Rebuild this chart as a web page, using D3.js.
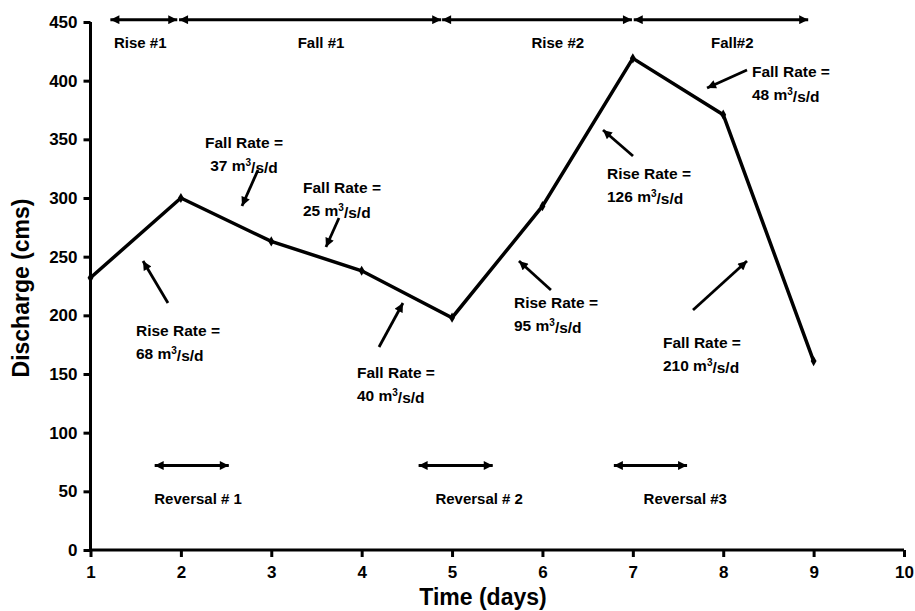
<!DOCTYPE html>
<html><head><meta charset="utf-8">
<script src="https://cdn.jsdelivr.net/npm/d3@7/dist/d3.min.js"></script>
<style>
body{margin:0;background:#fff;}
text{font-family:"Liberation Sans",Arial,sans-serif;font-weight:bold;fill:#000;}
</style></head>
<body><svg id="c" width="915" height="611"></svg>
<script>
// ---- data ----
const days = [1,2,3,4,5,6,7,8,9];
const discharge = [232,300,263,238,198,293,419,371,161];
const xTicks = [1,2,3,4,5,6,7,8,9,10];
const yTicks = [0,50,100,150,200,250,300,350,400,450];
const xTitle = "Time (days)";
const yTitle = "Discharge (cms)";

// period ranges (top) and reversal ranges (bottom), in days
const periodLabels = ["Rise #1","Fall #1","Rise #2","Fall#2"];
const periodStart = [1.22,1.98,4.89,7.01];
const periodEnd   = [1.96,4.88,6.99,8.94];
const periodLabelX = [1.55,3.55,6.17,8.10];
const periodArrowY = 452;
const periodLabelY = 432;

const reversalLabels = ["Reversal # 1","Reversal # 2","Reversal #3"];
const reversalStart = [1.71,4.63,6.79];
const reversalEnd   = [2.53,5.45,7.60];
const reversalLabelX = [2.19,5.30,7.58];
const reversalArrowY = 72;
const reversalLabelY = 44;

// rate annotations
const rateTitle = ["Fall Rate =","Fall Rate =","Rise Rate =","Fall Rate =","Rise Rate =","Fall Rate =","Rise Rate =","Fall Rate ="];
const rateValue = ["37","25","68","40","95","210","126","48"];
const rateX = [2.698,3.351,1.503,3.948,5.685,7.333,6.714,8.318];
const rateY = [346.9,308.5,186.6,150.9,210.5,176.4,320.5,407.4];
const rateAnchor = ["middle","start","start","start","start","start","start","start"];
const arrowX1 = [2.853,3.749,1.857,4.192,6.094,7.666,7.002,8.263];
const arrowY1 = [323.9,283.0,210.5,173.0,221.6,204.5,335.8,409.1];
const arrowX2 = [2.676,3.605,1.581,4.457,5.740,8.263,6.670,7.821];
const arrowY2 = [293.2,258.2,246.3,210.5,246.3,246.3,358.0,393.8];

// ---- chart ----
const svg = d3.select("#c");
const x = d3.scaleLinear().domain([1,10]).range([90.5,904]);
const y = d3.scaleLinear().domain([0,450]).range([550,22]);

const defs = svg.append("defs");
defs.append("marker").attr("id","ah").attr("viewBox","0 0 10 10")
  .attr("refX",10).attr("refY",5).attr("markerWidth",10).attr("markerHeight",9)
  .attr("markerUnits","userSpaceOnUse").attr("orient","auto-start-reverse")
  .append("path").attr("d","M0,0 L10,5 L0,10 Z").attr("fill","#000");

// axes
const xAxis = svg.append("g").attr("transform","translate(0,550)")
  .call(d3.axisBottom(x).tickValues(xTicks).tickSize(7).tickPadding(6).tickFormat(d3.format("d")));
const yAxis = svg.append("g").attr("transform","translate(90.5,0)")
  .call(d3.axisLeft(y).tickValues(yTicks).tickSize(7).tickPadding(6).tickFormat(d3.format("d")));
[xAxis,yAxis].forEach(g=>{
  g.select(".domain").attr("stroke","#000").attr("stroke-width",3).attr("d",
    g===xAxis ? "M"+x.range()[0]+",0H"+x.range()[1] : "M0,"+y.range()[0]+"V"+y.range()[1]);
  g.selectAll(".tick line").attr("stroke","#000").attr("stroke-width",3);
  g.selectAll(".tick text").style("font-size","17px").style("font-family",'"Liberation Sans",Arial,sans-serif').style("font-weight","bold");
});
xAxis.selectAll(".tick text").attr("dy","0.9em");

svg.append("text").attr("x",483).attr("y",605).attr("text-anchor","middle")
  .style("font-size","23px").text(xTitle);
svg.append("text").attr("transform","translate(29,288) rotate(-90)").attr("text-anchor","middle")
  .style("font-size","23px").text(yTitle);

// main line
const pts = days.map((d,i)=>[d,discharge[i]]);
svg.append("path").datum(pts)
  .attr("d", d3.line().x(d=>x(d[0])).y(d=>y(d[1])))
  .attr("fill","none").attr("stroke","#000").attr("stroke-width",3.5).attr("stroke-linejoin","miter");
svg.selectAll(".pt").data(pts).enter().append("path")
  .attr("transform",d=>`translate(${x(d[0])},${y(d[1])})`)
  .attr("d", d3.symbol().type(d3.symbolDiamond).size(30)).attr("fill","#000");

// double-headed range arrows
function rangeArrows(starts, ends, yv){
  svg.append("g").selectAll("line").data(starts).enter().append("line")
    .attr("x1",(d)=>x(d)).attr("x2",(d,i)=>x(ends[i]))
    .attr("y1",y(yv)).attr("y2",y(yv))
    .attr("stroke","#000").attr("stroke-width",3)
    .attr("marker-start","url(#ah)").attr("marker-end","url(#ah)");
}
rangeArrows(periodStart, periodEnd, periodArrowY);
rangeArrows(reversalStart, reversalEnd, reversalArrowY);

svg.append("g").selectAll("text").data(periodLabels).enter().append("text")
  .attr("x",(d,i)=>x(periodLabelX[i])).attr("y",y(periodLabelY)).attr("dy","0.35em")
  .attr("text-anchor","middle").style("font-size","15px").text(d=>d);
svg.append("g").selectAll("text").data(reversalLabels).enter().append("text")
  .attr("x",(d,i)=>x(reversalLabelX[i])).attr("y",y(reversalLabelY)).attr("dy","0.35em")
  .attr("text-anchor","middle").style("font-size","15px").text(d=>d);

// rate annotations
rateTitle.forEach((t,i)=>{
  const g = svg.append("g");
  g.append("text").attr("x",x(rateX[i])).attr("y",y(rateY[i])).attr("dy","0.35em")
    .attr("text-anchor",rateAnchor[i]).style("font-size","15.5px").text(t);
  const t2 = g.append("text").attr("x",x(rateX[i])).attr("y",y(rateY[i])+22.5).attr("dy","0.35em")
    .attr("text-anchor",rateAnchor[i]).style("font-size","15.5px");
  t2.append("tspan").text(rateValue[i]+" m");
  t2.append("tspan").attr("dy","-0.45em").style("font-size","10px").text("3");
  t2.append("tspan").attr("dy","0.45em").text("/s/d");
  g.append("line").attr("x1",x(arrowX1[i])).attr("y1",y(arrowY1[i]))
    .attr("x2",x(arrowX2[i])).attr("y2",y(arrowY2[i]))
    .attr("stroke","#000").attr("stroke-width",2.8).attr("marker-end","url(#ah)");
});
</script></body></html>
